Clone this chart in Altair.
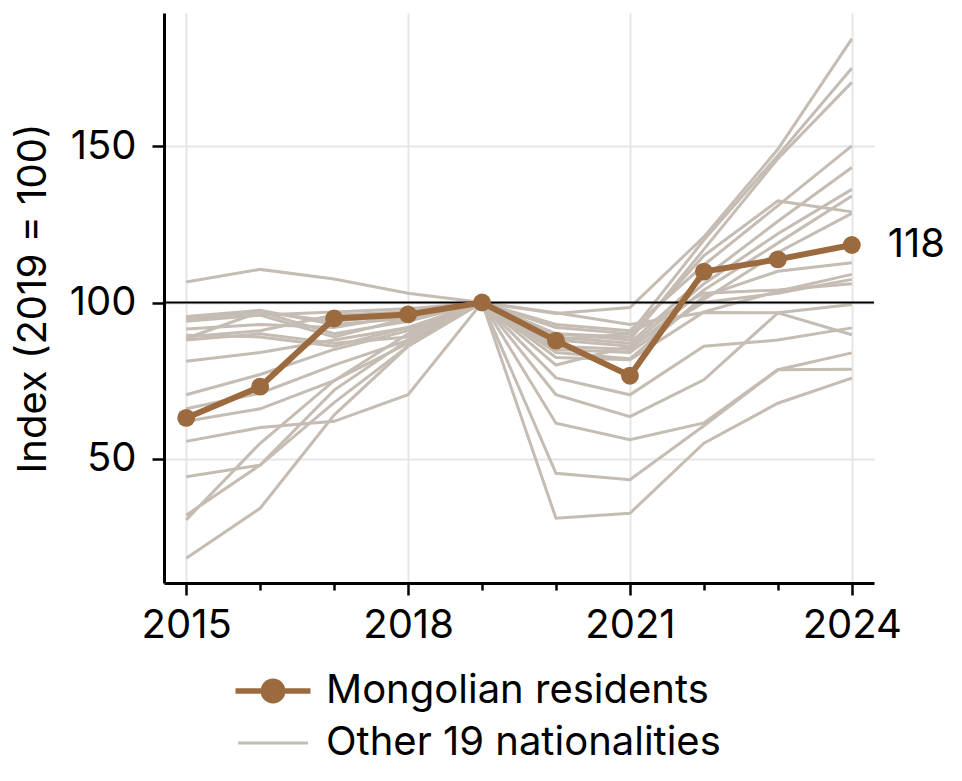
import altair as alt
import pandas as pd

years = list(range(2015, 2025))

mongolian = [63.1, 73.1, 94.9, 96.2, 100, 87.8, 76.6, 109.9, 113.8, 118.4]

others = [
    [106.6, 110.6, 107.5, 103.0, 100, 96.5, 98.4, 121.0, 149.0, 184.3],
    [95.5, 97.5, 93.0, 95.0, 100, 92.0, 90.0, 120.0, 147.0, 174.9],
    [94.0, 96.0, 97.0, 98.0, 100, 90.0, 88.0, 117.0, 146.0, 170.4],
    [89.0, 91.0, 96.0, 97.0, 100, 93.0, 91.0, 112.0, 131.0, 150.1],
    [88.5, 97.0, 90.0, 94.0, 100, 89.0, 87.0, 108.0, 126.0, 143.2],
    [81.2, 84.0, 88.0, 92.0, 100, 88.0, 86.0, 106.0, 122.0, 136.2],
    [70.5, 77.0, 85.0, 91.0, 100, 86.0, 85.0, 104.0, 119.0, 134.1],
    [91.5, 93.0, 92.0, 96.0, 100, 90.0, 89.0, 115.0, 132.5, 129.0],
    [62.0, 66.0, 75.0, 90.0, 100, 85.0, 84.0, 101.0, 116.0, 128.5],
    [55.6, 60.0, 62.0, 70.5, 100, 84.0, 82.0, 102.0, 110.0, 112.7],
    [88.0, 90.0, 87.0, 89.0, 100, 82.4, 81.7, 97.0, 103.6, 109.0],
    [32.0, 48.0, 72.0, 88.0, 100, 80.0, 86.0, 100.0, 103.0, 107.4],
    [30.5, 55.0, 75.0, 87.0, 100, 88.0, 90.0, 103.0, 104.0, 106.0],
    [44.3, 48.0, 68.0, 86.0, 100, 96.7, 93.0, 96.8, 96.7, 99.4],
    [94.5, 96.0, 89.0, 95.0, 100, 75.9, 70.5, 86.0, 88.0, 91.9],
    [18.2, 34.2, 64.0, 86.0, 100, 70.5, 63.5, 75.3, 96.7, 89.7],
    [89.5, 89.0, 86.0, 92.0, 100, 61.4, 56.1, 61.5, 78.5, 83.9],
    [66.0, 71.0, 80.0, 88.0, 100, 45.4, 43.3, 60.6, 78.5, 78.7],
    [95.0, 97.0, 94.0, 96.0, 100, 31.0, 32.6, 55.0, 67.8, 75.8],
]

MONGOL = "Mongolian residents"
OTHER = "Other 19 nationalities"
BROWN = "#9b6b3f"
GRAY = "#c5bcb3"
FONT = "Inter"
FS = 40

rows = []
for i, s in enumerate(others):
    for y, v in zip(years, s):
        rows.append({"year": y, "value": v, "series": f"o{i}", "group": OTHER})
df_other = pd.DataFrame(rows)
df_mon = pd.DataFrame({"year": years, "value": mongolian, "series": "mn", "group": MONGOL})
df_last = df_mon.tail(1)
df_ref = pd.DataFrame({"value": [100]})

xscale = alt.Scale(domain=[2014.7, 2024.3], nice=False, zero=False)
yscale = alt.Scale(domain=[10.3, 192.6], nice=False, zero=False)

major = "(datum.value - 2015) % 3 == 0"
xaxis = alt.Axis(
    values=years,
    format="d",
    labelExpr=f"{major} ? datum.label : ''",
    labelOverlap=False,
    tickSize={"condition": {"test": major, "value": 12}, "value": 7},
    gridOpacity={"condition": {"test": major, "value": 1}, "value": 0},
    title=None,
    labelPadding=10,
)
yaxis = alt.Axis(
    values=[50, 100, 150],
    tickSize=12,
    labelPadding=16,
    title="Index (2019 = 100)",
    titlePadding=16,
)

common_legend = dict(
    title=None,
    orient="none",
    direction="vertical",
    symbolSize=900,
    labelOffset=33,
    padding=0,
    labelFontSize=FS,
    labelFont=FONT,
    labelColor="black",
    labelLimit=600,
    symbolOpacity=1,
)

mon_legend = alt.Legend(
    legendX=89,
    legendY=658,
    symbolType="M-2.5,0H2.5M-0.65,0a0.65,0.65 0 1,0 1.3,0a0.65,0.65 0 1,0 -1.3,0",
    symbolFillColor=BROWN,
    symbolStrokeColor=BROWN,
    symbolStrokeWidth=5.5,
    **common_legend,
)
oth_legend = alt.Legend(
    legendX=89,
    legendY=710,
    symbolType="M-2.33,0H2.33",
    symbolStrokeColor=GRAY,
    symbolStrokeWidth=3,
    **common_legend,
)

x = alt.X("year:Q", scale=xscale, axis=xaxis)
y = alt.Y("value:Q", scale=yscale, axis=yaxis)

gray_lines = alt.Chart(df_other).mark_line(strokeWidth=3, color=GRAY).encode(
    x=x,
    y=y,
    detail="series:N",
    opacity=alt.Opacity(
        "group:N", scale=alt.Scale(domain=[OTHER], range=[1]), legend=oth_legend
    ),
)
ref = alt.Chart(df_ref).mark_rule(color="black", strokeWidth=2).encode(
    y=alt.Y("value:Q", scale=yscale)
)
mon_line = alt.Chart(df_mon).mark_line(strokeWidth=6, color=BROWN).encode(x=x, y=y)
mon_pts = alt.Chart(df_mon).mark_circle(size=320, opacity=1).encode(
    x=x,
    y=y,
    color=alt.Color(
        "group:N", scale=alt.Scale(domain=[MONGOL], range=[BROWN]), legend=mon_legend
    ),
)
label = alt.Chart(df_last).mark_text(
    align="left", baseline="middle", dx=36, fontSize=FS, font=FONT, color="black"
).encode(x=x, y=y, text=alt.Text("value:Q", format=".0f"))

chart = alt.layer(gray_lines, ref, mon_line, mon_pts, label).properties(
    width=710, height=570
).configure_view(stroke=None).configure_axis(
    domainColor="black",
    domainWidth=3,
    tickColor="black",
    tickWidth=2.5,
    labelFont=FONT,
    labelFontSize=FS,
    labelColor="black",
    titleFont=FONT,
    titleFontSize=FS,
    titleFontWeight="normal",
    titleColor="black",
    gridColor="#e6e6e6",
    gridWidth=2,
)

chart.save("out.html", embed_options={"renderer": "svg", "actions": False})
